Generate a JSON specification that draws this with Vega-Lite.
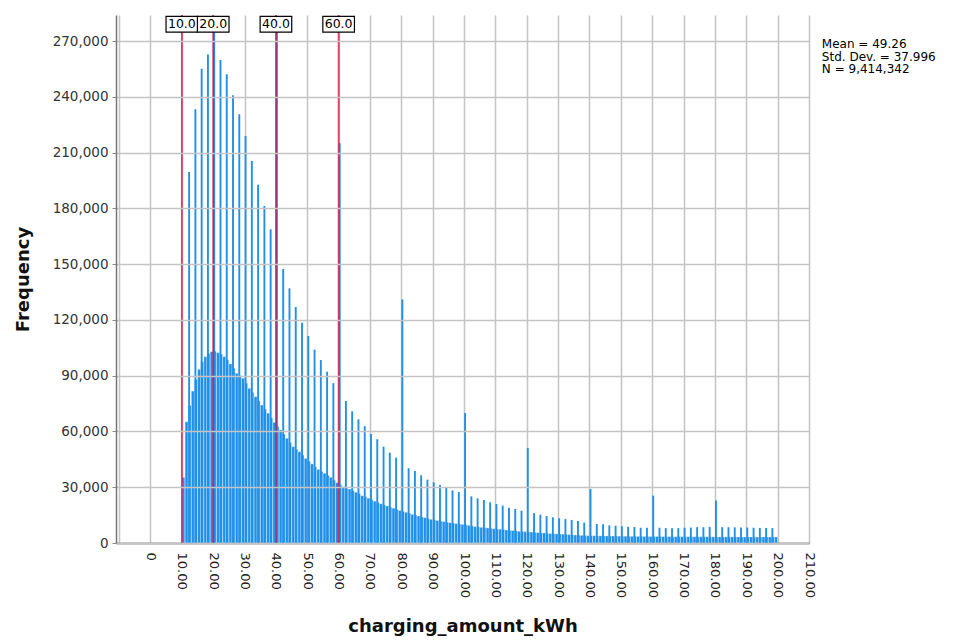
{
"$schema": "https://vega.github.io/schema/vega-lite/v6.json",
"width": 693, "height": 528,
"autosize": "none",
"padding": {"left": 116, "top": 15, "right": 149, "bottom": 99},
"background": "white",
"config": {"view": {"stroke": null}, "font": "DejaVu Sans", "axisX": {"labelOverlap": false, "labelSeparation": 0, "tickCount": 22}, "scale": {"continuousPadding": 0}},
"datasets": {
"background": [
{"kwh":10,"count":35300},{"kwh":11,"count":65200},{"kwh":12,"count":74000},{"kwh":13,"count":81700},{"kwh":14,"count":88000},{"kwh":15,"count":93400},{"kwh":16,"count":97500},{"kwh":17,"count":100200},{"kwh":18,"count":102000},{"kwh":19,"count":102900},
{"kwh":20,"count":103200},{"kwh":21,"count":102400},{"kwh":22,"count":101500},{"kwh":23,"count":100200},{"kwh":24,"count":98500},{"kwh":25,"count":96300},{"kwh":26,"count":94000},{"kwh":27,"count":91300},{"kwh":28,"count":90000},{"kwh":29,"count":88600},
{"kwh":30,"count":86000},{"kwh":31,"count":83200},{"kwh":32,"count":81000},{"kwh":33,"count":78700},{"kwh":34,"count":76500},{"kwh":35,"count":74200},{"kwh":36,"count":72000},{"kwh":37,"count":69800},{"kwh":38,"count":67300},{"kwh":39,"count":64900},
{"kwh":40,"count":62800},{"kwh":41,"count":60800},{"kwh":42,"count":58500},{"kwh":43,"count":56300},{"kwh":44,"count":54000},{"kwh":45,"count":51800},{"kwh":46,"count":50400},{"kwh":47,"count":49100},{"kwh":48,"count":47300},{"kwh":49,"count":45500},
{"kwh":50,"count":44000},{"kwh":51,"count":42500},{"kwh":52,"count":41000},{"kwh":53,"count":39600},{"kwh":54,"count":38500},{"kwh":55,"count":37500},{"kwh":56,"count":36400},{"kwh":57,"count":35300},{"kwh":58,"count":33800},{"kwh":59,"count":32400},
{"kwh":60,"count":31300},{"kwh":61,"count":30300},{"kwh":62,"count":29400},{"kwh":63,"count":29000},{"kwh":64,"count":28200},{"kwh":65,"count":27300},{"kwh":66,"count":26600},{"kwh":67,"count":25400},{"kwh":68,"count":24900},{"kwh":69,"count":24100},
{"kwh":70,"count":23300},{"kwh":71,"count":22500},{"kwh":72,"count":21800},{"kwh":73,"count":21100},{"kwh":74,"count":20500},{"kwh":75,"count":19900},{"kwh":76,"count":19200},{"kwh":77,"count":18700},{"kwh":78,"count":18100},{"kwh":79,"count":17500},
{"kwh":80,"count":16900},{"kwh":81,"count":16500},{"kwh":82,"count":16000},{"kwh":83,"count":15400},{"kwh":84,"count":15000},{"kwh":85,"count":14500},{"kwh":86,"count":14000},{"kwh":87,"count":13600},{"kwh":88,"count":13100},{"kwh":89,"count":12700},
{"kwh":90,"count":12400},{"kwh":91,"count":12100},{"kwh":92,"count":11800},{"kwh":93,"count":11500},{"kwh":94,"count":11200},{"kwh":95,"count":10900},{"kwh":96,"count":10700},{"kwh":97,"count":10400},{"kwh":98,"count":10200},{"kwh":99,"count":10000},
{"kwh":100,"count":9800},{"kwh":101,"count":9500},{"kwh":102,"count":9200},{"kwh":103,"count":8800},{"kwh":104,"count":8600},{"kwh":105,"count":8400},{"kwh":106,"count":8300},{"kwh":107,"count":8100},{"kwh":108,"count":7900},{"kwh":109,"count":7700},
{"kwh":110,"count":7500},{"kwh":111,"count":7400},{"kwh":112,"count":7200},{"kwh":113,"count":7000},{"kwh":114,"count":6800},{"kwh":115,"count":6700},{"kwh":116,"count":6500},{"kwh":117,"count":6300},{"kwh":118,"count":6200},{"kwh":119,"count":6100},
{"kwh":120,"count":6000},{"kwh":121,"count":5900},{"kwh":122,"count":5700},{"kwh":123,"count":5600},{"kwh":124,"count":5500},{"kwh":125,"count":5400},{"kwh":126,"count":5200},{"kwh":127,"count":5100},{"kwh":128,"count":5000},{"kwh":129,"count":4900},
{"kwh":130,"count":4800},{"kwh":131,"count":4700},{"kwh":132,"count":4600},{"kwh":133,"count":4500},{"kwh":134,"count":4400},{"kwh":135,"count":4300},{"kwh":136,"count":4200},{"kwh":137,"count":4100},{"kwh":138,"count":4000},{"kwh":139,"count":3950},
{"kwh":140,"count":3900},{"kwh":141,"count":3900},{"kwh":142,"count":3850},{"kwh":143,"count":3850},{"kwh":144,"count":3800},{"kwh":145,"count":3800},{"kwh":146,"count":3750},{"kwh":147,"count":3750},{"kwh":148,"count":3700},{"kwh":149,"count":3700},
{"kwh":150,"count":3650},{"kwh":151,"count":3650},{"kwh":152,"count":3600},{"kwh":153,"count":3600},{"kwh":154,"count":3600},{"kwh":155,"count":3550},{"kwh":156,"count":3550},{"kwh":157,"count":3550},{"kwh":158,"count":3500},{"kwh":159,"count":3500},
{"kwh":160,"count":3500},{"kwh":161,"count":3500},{"kwh":162,"count":3450},{"kwh":163,"count":3450},{"kwh":164,"count":3450},{"kwh":165,"count":3450},{"kwh":166,"count":3400},{"kwh":167,"count":3400},{"kwh":168,"count":3400},{"kwh":169,"count":3400},
{"kwh":170,"count":3400},{"kwh":171,"count":3400},{"kwh":172,"count":3350},{"kwh":173,"count":3350},{"kwh":174,"count":3350},{"kwh":175,"count":3350},{"kwh":176,"count":3350},{"kwh":177,"count":3350},{"kwh":178,"count":3350},{"kwh":179,"count":3300},
{"kwh":180,"count":3300},{"kwh":181,"count":3300},{"kwh":182,"count":3300},{"kwh":183,"count":3300},{"kwh":184,"count":3300},{"kwh":185,"count":3300},{"kwh":186,"count":3300},{"kwh":187,"count":3250},{"kwh":188,"count":3250},{"kwh":189,"count":3250},
{"kwh":190,"count":3250},{"kwh":191,"count":3250},{"kwh":192,"count":3250},{"kwh":193,"count":3250},{"kwh":194,"count":3250},{"kwh":195,"count":3250},{"kwh":196,"count":3250},{"kwh":197,"count":3250},{"kwh":198,"count":3250},{"kwh":199,"count":3250}
],
"spikes": [
{"kwh":12,"count":199500},{"kwh":14,"count":233300},{"kwh":16,"count":255100},{"kwh":18,"count":262800},{"kwh":20,"count":281000},{"kwh":22,"count":259800},{"kwh":24,"count":252100},{"kwh":26,"count":240800},{"kwh":28,"count":230600},{"kwh":30,"count":218900},
{"kwh":32,"count":205500},{"kwh":34,"count":192700},{"kwh":36,"count":181300},{"kwh":38,"count":168700},{"kwh":40,"count":278000},{"kwh":42,"count":147400},{"kwh":44,"count":137000},{"kwh":46,"count":126900},{"kwh":48,"count":118500},{"kwh":50,"count":111300},
{"kwh":52,"count":104000},{"kwh":54,"count":98400},{"kwh":56,"count":92100},{"kwh":58,"count":86000},{"kwh":60,"count":215000},{"kwh":62,"count":76400},{"kwh":64,"count":70800},{"kwh":66,"count":66500},{"kwh":68,"count":62900},{"kwh":70,"count":58600},
{"kwh":72,"count":55800},{"kwh":74,"count":51800},{"kwh":76,"count":48600},{"kwh":78,"count":45900},{"kwh":80,"count":131000},{"kwh":82,"count":40200},{"kwh":84,"count":38700},{"kwh":86,"count":36400},{"kwh":88,"count":34100},{"kwh":90,"count":32600},
{"kwh":92,"count":31200},{"kwh":94,"count":30000},{"kwh":96,"count":28300},{"kwh":98,"count":27400},{"kwh":100,"count":69900},{"kwh":102,"count":25100},{"kwh":104,"count":24000},{"kwh":106,"count":23100},{"kwh":108,"count":21900},{"kwh":110,"count":21000},
{"kwh":112,"count":20100},{"kwh":114,"count":19000},{"kwh":116,"count":18300},{"kwh":118,"count":17400},{"kwh":120,"count":51100},{"kwh":122,"count":16100},{"kwh":124,"count":15200},{"kwh":126,"count":14500},{"kwh":128,"count":13800},{"kwh":130,"count":13300},
{"kwh":132,"count":12900},{"kwh":134,"count":12400},{"kwh":136,"count":11800},{"kwh":138,"count":11000},{"kwh":140,"count":29000},{"kwh":142,"count":10200},{"kwh":144,"count":10100},{"kwh":146,"count":9500},{"kwh":148,"count":9300},{"kwh":150,"count":9000},
{"kwh":152,"count":8800},{"kwh":154,"count":8600},{"kwh":156,"count":8200},{"kwh":158,"count":8200},{"kwh":160,"count":25500},{"kwh":162,"count":8200},{"kwh":164,"count":8000},{"kwh":166,"count":7900},{"kwh":168,"count":8000},{"kwh":170,"count":8200},
{"kwh":172,"count":8300},{"kwh":174,"count":8500},{"kwh":176,"count":8500},{"kwh":178,"count":8700},{"kwh":180,"count":22900},{"kwh":182,"count":8500},{"kwh":184,"count":8500},{"kwh":186,"count":8400},{"kwh":188,"count":8300},{"kwh":190,"count":8300},
{"kwh":192,"count":8200},{"kwh":194,"count":8100},{"kwh":196,"count":8100},{"kwh":198,"count":8000}
],
"refs": [
{"kwh":10,"label":"10.0"},{"kwh":20,"label":"20.0"},{"kwh":40,"label":"40.0"},{"kwh":60,"label":"60.0"}
],
"stats": [
{"label":"Mean = 49.26\nStd. Dev. = 37.996\nN = 9,414,342"}
]
},
"layer": [
{
"data": {"name": "background"},
"mark": {"type": "bar", "orient": "vertical", "width": 2.9, "xOffset": 1.57, "color": "#2090e8", "stroke": "white", "strokeWidth": 0.3, "clip": true},
"encoding": {
"x": {"field": "kwh", "type": "quantitative",
"scale": {"domain": [-11, 210], "nice": false, "zero": false, "padding": 0},
"axis": {"tickCount": 22,
"labelExpr": "datum.value < 0 ? '' : datum.value == 0 ? '0' : format(datum.value, '.2f')",
"labelAngle": 90, "labelFontSize": 13, "labelColor": "#222", "labelFlush": false, "labelOverlap": false, "labelBound": false,
"ticks": false, "labelPadding": 9,
"title": "charging_amount_kWh", "titleFontSize": 18, "titleFontWeight": "bold", "titleColor": "#111", "titlePadding": 20,
"domainColor": "#333", "domainWidth": 1.5,
"gridColor": "#c4c4c4", "gridWidth": 1.5, "zindex": 0}},
"y": {"field": "count", "type": "quantitative",
"scale": {"domain": [0, 284000], "nice": false},
"axis": {"values": [0,30000,60000,90000,120000,150000,180000,210000,240000,270000],
"format": ",d", "labelFontSize": 13.5, "labelColor": "#333", "labelPadding": 4,
"tickSize": 4, "tickColor": "#888",
"title": "Frequency", "titleFontSize": 18, "titleFontWeight": "bold", "titleColor": "#111", "titlePadding": 20,
"domainColor": "#777", "domainWidth": 1.5,
"gridColor": "#c4c4c4", "gridWidth": 1.5, "zindex": 1}}
}
},
{
"data": {"name": "spikes"},
"mark": {"type": "bar", "orient": "vertical", "width": 1.9, "xOffset": 1, "color": "#2090e8", "clip": true},
"encoding": {
"x": {"field": "kwh", "type": "quantitative"},
"y": {"field": "count", "type": "quantitative"}
}
},
{
"data": {"name": "refs"},
"mark": {"type": "rule", "color": "#e8003d", "strokeWidth": 1.8, "opacity": 0.75},
"encoding": {"x": {"field": "kwh", "type": "quantitative"}}
},
{
"data": {"name": "refs"},
"mark": {"type": "point", "shape": "M-1,-0.5H1V0.5H-1Z", "size": 1000, "filled": true, "fill": "white", "stroke": "black", "strokeWidth": 1.2, "opacity": 1},
"encoding": {
"x": {"field": "kwh", "type": "quantitative"},
"y": {"datum": 279000, "type": "quantitative"}
}
},
{
"data": {"name": "refs"},
"mark": {"type": "text", "fontSize": 12.5, "color": "black", "baseline": "middle", "align": "center"},
"encoding": {
"x": {"field": "kwh", "type": "quantitative"},
"y": {"datum": 279000, "type": "quantitative"},
"text": {"field": "label"}
}
},
{
"data": {"name": "stats"},
"mark": {"type": "text", "fontSize": 12, "color": "black", "align": "left", "baseline": "top", "lineBreak": "\n", "lineHeight": 12.5},
"encoding": {
"x": {"datum": 214.1, "type": "quantitative"},
"y": {"datum": 271000, "type": "quantitative"},
"text": {"field": "label"}
}
}
]
}
